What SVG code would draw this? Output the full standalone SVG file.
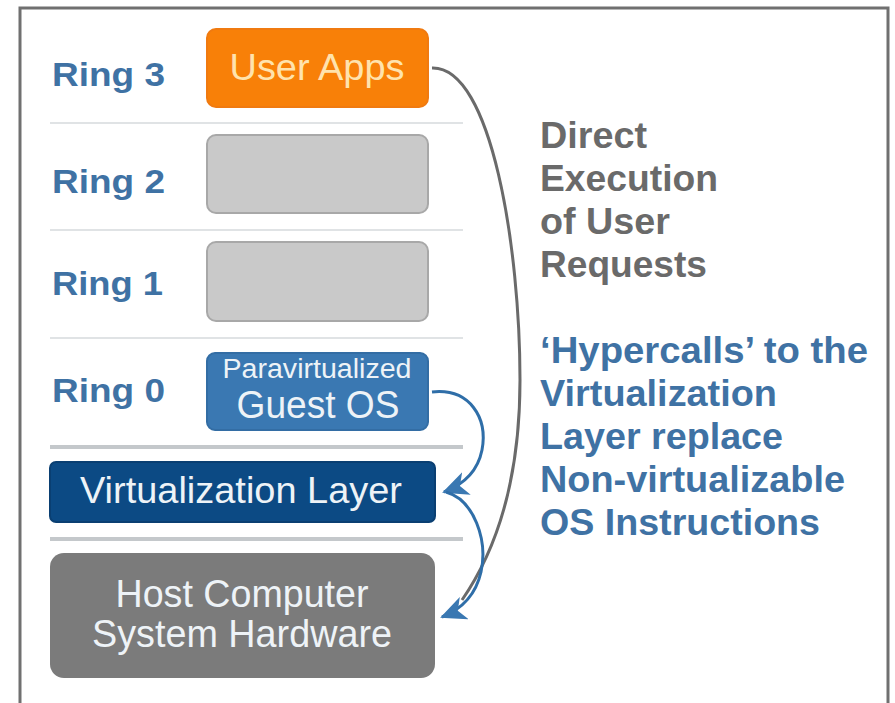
<svg xmlns="http://www.w3.org/2000/svg" width="895" height="703" viewBox="0 0 895 703">
<defs>
<style>
text{font-family:"Liberation Sans",Arial,sans-serif}
.ring{font-weight:bold;font-size:33px;fill:#3f72a4}
.sep{stroke:#d6dadd;stroke-width:1.5}
.sep2{stroke:#c4c8cb;stroke-width:4}
.box{stroke:#a8a8a8;stroke-width:2}
.grey{font-weight:bold;font-size:36px;fill:#6a6a6a}
.blue{font-weight:bold;font-size:36px;fill:#3f72a4}
.lbl{fill:#eef3f7;text-anchor:middle}
.conn{fill:none;stroke-width:3}
</style>
<marker id="ahb" viewBox="0 0 26 24" refX="24" refY="12" markerWidth="26" markerHeight="24" markerUnits="userSpaceOnUse" orient="auto">
<path d="M0,0 L26,12 L0,24 L7,12 Z" fill="#3a78b2"/>
</marker>
</defs>
<rect width="895" height="703" fill="#ffffff"/>
<path d="M20,703 V8 H888 V703" fill="none" stroke="#707070" stroke-width="3"/>

<g id="separators">
<line class="sep" x1="50" y1="123" x2="463" y2="123"/>
<line class="sep" x1="50" y1="230" x2="463" y2="230"/>
<line class="sep" x1="50" y1="338" x2="463" y2="338"/>
<line class="sep2" x1="50" y1="447" x2="463" y2="447"/>
<line class="sep2" x1="50" y1="539" x2="463" y2="539"/>
</g>

<g id="ring3"><text class="ring" x="52" y="86" textLength="113" lengthAdjust="spacingAndGlyphs">Ring 3</text></g>
<g id="ring2"><text class="ring" x="52" y="193" textLength="113" lengthAdjust="spacingAndGlyphs">Ring 2</text></g>
<g id="ring1"><text class="ring" x="52" y="295" textLength="111" lengthAdjust="spacingAndGlyphs">Ring 1</text></g>
<g id="ring0"><text class="ring" x="52" y="402" textLength="113" lengthAdjust="spacingAndGlyphs">Ring 0</text></g>

<g id="user-apps">
<rect x="207" y="29" width="221" height="78" rx="9" fill="#f88008" stroke="#f07a10" stroke-width="2"/>
<text x="317" y="80" font-size="37" fill="#ffe3ad" text-anchor="middle" textLength="175" lengthAdjust="spacingAndGlyphs">User Apps</text>
</g>
<g id="ring2-box"><rect class="box" x="207" y="135" width="221" height="78" rx="9" fill="#c9c9c9"/></g>
<g id="ring1-box"><rect class="box" x="207" y="242" width="221" height="79" rx="9" fill="#c9c9c9"/></g>
<g id="guest-os">
<rect x="207" y="353" width="221" height="77" rx="8" fill="#3a78b2" stroke="#336da4" stroke-width="2"/>
<text class="lbl" x="317" y="378" font-size="27" textLength="189" lengthAdjust="spacingAndGlyphs">Paravirtualized</text>
<text class="lbl" x="318" y="418" font-size="38" textLength="163" lengthAdjust="spacingAndGlyphs">Guest OS</text>
</g>
<g id="virt-layer">
<rect x="50" y="462" width="385" height="60" rx="6" fill="#0c4a84" stroke="#0a3f72" stroke-width="2"/>
<text class="lbl" x="241" y="503" font-size="37" textLength="322" lengthAdjust="spacingAndGlyphs">Virtualization Layer</text>
</g>
<g id="host-hw">
<rect x="50" y="553" width="385" height="125" rx="14" fill="#7b7b7b"/>
<text class="lbl" x="242" y="607" font-size="38" textLength="253" lengthAdjust="spacingAndGlyphs">Host Computer</text>
<text class="lbl" x="242" y="647" font-size="38" textLength="300" lengthAdjust="spacingAndGlyphs">System Hardware</text>
</g>

<g id="connectors">
<path class="conn" stroke="#6a6a6a" d="M432,68 C492,66 520,250 520,380 C520,470 500,545 462,600"/>
<path class="conn" stroke="#2f6ea8" d="M432,392 C470,388 488,418 482,450 C478,470 465,484 444,492" marker-end="url(#ahb)"/>
<path class="conn" stroke="#2f6ea8" d="M446,492 C474,500 488,540 481,572 C476,594 462,609 442,617" marker-end="url(#ahb)"/>
</g>

<g id="note-direct">
<text class="grey" x="540" y="148" textLength="107" lengthAdjust="spacingAndGlyphs">Direct</text>
<text class="grey" x="540" y="191" textLength="178" lengthAdjust="spacingAndGlyphs">Execution</text>
<text class="grey" x="540" y="234" textLength="130" lengthAdjust="spacingAndGlyphs">of User</text>
<text class="grey" x="540" y="277" textLength="167" lengthAdjust="spacingAndGlyphs">Requests</text>
</g>
<g id="note-hypercalls">
<text class="blue" x="540" y="363" textLength="328" lengthAdjust="spacingAndGlyphs">‘Hypercalls’ to the</text>
<text class="blue" x="540" y="406" textLength="237" lengthAdjust="spacingAndGlyphs">Virtualization</text>
<text class="blue" x="540" y="449" textLength="243" lengthAdjust="spacingAndGlyphs">Layer replace</text>
<text class="blue" x="540" y="492" textLength="305" lengthAdjust="spacingAndGlyphs">Non-virtualizable</text>
<text class="blue" x="540" y="535" textLength="280" lengthAdjust="spacingAndGlyphs">OS Instructions</text>
</g>
</svg>
